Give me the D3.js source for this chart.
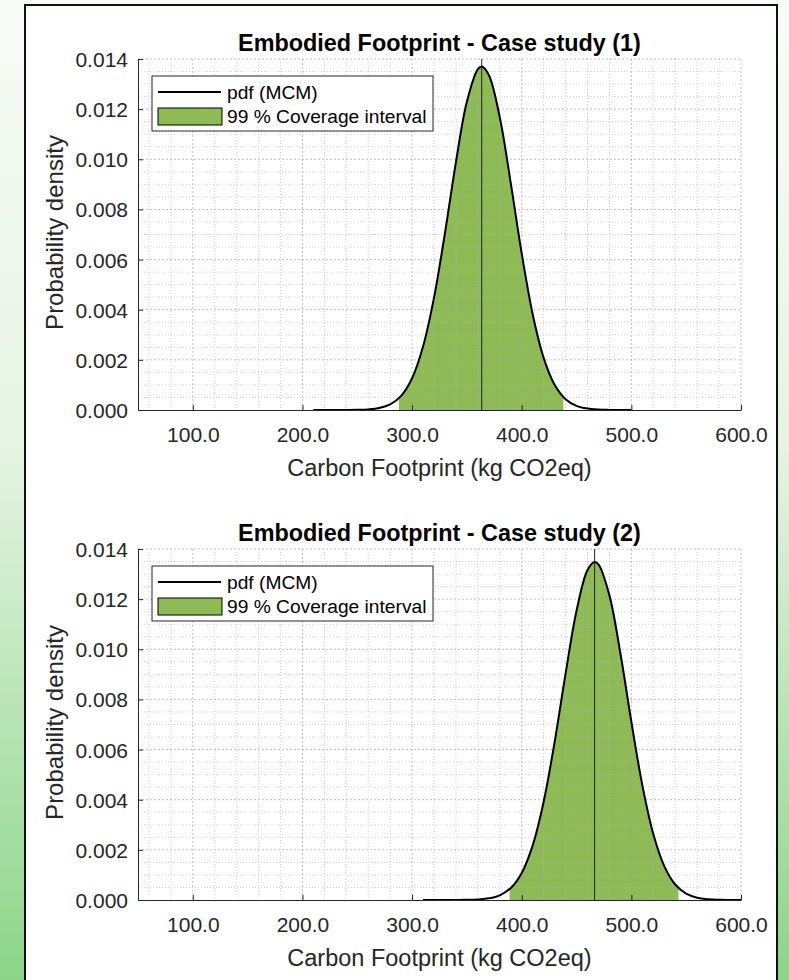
<!DOCTYPE html>
<html>
<head>
<meta charset="utf-8">
<script src="https://cdn.jsdelivr.net/npm/d3@7"></script>
<style>
    body { margin: 0; padding: 0; background: #fff; }
    svg { display: block; font-family: "Liberation Sans", Arial, sans-serif; }
    .tick text { fill: #262626; }
</style>
</head>
<body>
<svg id="chart"></svg>
<script>
// values
const xTicks = [100, 200, 300, 400, 500, 600];
const yTicks = [0, 0.002, 0.004, 0.006, 0.008, 0.010, 0.012, 0.014];
const xDomain = [50, 600];
const yDomain = [0, 0.014];

const titles = ["Embodied Footprint - Case study (1)", "Embodied Footprint - Case study (2)"];
const legendLabels = ["pdf (MCM)", "99 % Coverage interval"];

// case study 1 pdf
const pdf1X = [210, 220, 230, 240, 250, 260, 270, 280, 290, 300, 310, 320, 330, 340, 350, 360, 363.5,
               370, 380, 390, 400, 410, 420, 430, 440, 450, 460, 470, 480, 490, 500];
const pdf1Y = [0, 0.0000001, 0.0000004, 0.0000017, 0.0000068, 0.0000245, 0.0000785, 0.000223, 0.000564,
               0.001267, 0.00253, 0.00448, 0.00706, 0.00989, 0.0123, 0.0136, 0.0137,
               0.01336, 0.01167, 0.00905, 0.00624, 0.00382, 0.00208, 0.001007, 0.000433, 0.000165,
               0.000056, 0.0000169, 0.0000045, 0.0000011, 0.0000002];
const coverage1 = [288, 438];
const mean1 = 363.5;

// case study 2 pdf
const pdf2X = [310, 320, 330, 340, 350, 360, 370, 380, 390, 400, 410, 420, 430, 440, 450, 460, 466.5,
               470, 480, 490, 500, 510, 520, 530, 540, 550, 560, 570, 580, 590, 600];
const pdf2Y = [0, 0.0000001, 0.0000003, 0.0000015, 0.0000058, 0.0000208, 0.000066, 0.000188, 0.000478,
               0.001081, 0.00218, 0.00392, 0.0063, 0.00903, 0.01154, 0.01316, 0.01348,
               0.01339, 0.01215, 0.00984, 0.00711, 0.00458, 0.00263, 0.001351, 0.000618, 0.000252,
               0.000092, 0.00003, 0.0000086, 0.0000022, 0.0000005];
const coverage2 = [389, 543];
const mean2 = 466.5;

const WIDTH = 789, HEIGHT = 980;
const fillGreen = "#8fbb57";
const axisColor = "#262626";

let svg = d3.select("#chart")
    .attr("width", WIDTH)
    .attr("height", HEIGHT);

let defs = svg.append("defs");
let grad = defs.append("linearGradient")
    .attr("id", "bgGrad")
    .attr("x1", 0).attr("y1", 0)
    .attr("x2", 0).attr("y2", 1);
grad.append("stop").attr("offset", "0%").attr("stop-color", "#f8fcf7");
grad.append("stop").attr("offset", "45%").attr("stop-color", "#e6f4e4");
grad.append("stop").attr("offset", "100%").attr("stop-color", "#8cd588");

svg.append("rect")
    .attr("width", WIDTH).attr("height", HEIGHT)
    .attr("fill", "url(#bgGrad)");

// white figure window
svg.append("rect")
    .attr("x", 25).attr("y", 5)
    .attr("width", 752).attr("height", 1000)
    .attr("fill", "#fff")
    .attr("stroke", "#111")
    .attr("stroke-width", 2);

class DensityPanel {

    constructor(top, idx) {
        this.left = 138;
        this.right = 741;
        this.top = top;
        this.bottom = top + 351;
        this.idx = idx;
        this.x = d3.scaleLinear().domain(xDomain).range([this.left, this.right]);
        this.y = d3.scaleLinear().domain(yDomain).range([this.bottom, this.top]);
        this.g = svg.append("g");
    }

    drawGrid() {
        let x = this.x, y = this.y;
        let minorX = d3.range(60, 601, 20).filter(v => v % 100 !== 0);
        let minorY = d3.range(0.0005, 0.01401, 0.0005).filter(v => Math.abs(v / 0.002 - Math.round(v / 0.002)) > 1e-6);
        let grid = this.g.append("g").attr("fill", "none");
        grid.selectAll(".mx").data(minorX).enter().append("line")
            .attr("x1", d => x(d)).attr("x2", d => x(d))
            .attr("y1", this.top).attr("y2", this.bottom)
            .attr("stroke", "#b0b0b0").attr("stroke-opacity", 0.6)
            .attr("stroke-dasharray", "1,2");
        grid.selectAll(".my").data(minorY).enter().append("line")
            .attr("x1", this.left).attr("x2", this.right)
            .attr("y1", d => y(d)).attr("y2", d => y(d))
            .attr("stroke", "#b0b0b0").attr("stroke-opacity", 0.6)
            .attr("stroke-dasharray", "1,2");
        grid.selectAll(".Mx").data(xTicks).enter().append("line")
            .attr("x1", d => x(d)).attr("x2", d => x(d))
            .attr("y1", this.top).attr("y2", this.bottom)
            .attr("stroke", "#a0a0a0").attr("stroke-opacity", 0.65)
            .attr("stroke-dasharray", "2,2");
        grid.selectAll(".My").data(yTicks.slice(1)).enter().append("line")
            .attr("x1", this.left).attr("x2", this.right)
            .attr("y1", d => y(d)).attr("y2", d => y(d))
            .attr("stroke", "#a0a0a0").attr("stroke-opacity", 0.65)
            .attr("stroke-dasharray", "2,2");
    }

    drawCurve(xs, ys, cov, mean) {
        let x = this.x, y = this.y;
        let pts = xs.map((v, i) => [v, ys[i]]);
        let clipId = "cov" + this.idx;
        defs.append("clipPath").attr("id", clipId)
            .append("rect")
            .attr("x", x(cov[0])).attr("y", this.top)
            .attr("width", x(cov[1]) - x(cov[0]))
            .attr("height", this.bottom - this.top);
        let area = d3.area()
            .x(d => x(d[0])).y0(y(0)).y1(d => y(d[1]))
            .curve(d3.curveCatmullRom.alpha(0.5));
        this.g.append("path")
            .datum(pts)
            .attr("d", area)
            .attr("fill", fillGreen)
            .attr("clip-path", "url(#" + clipId + ")");

        this.drawGrid();

        // mean line
        this.g.append("line")
            .attr("x1", x(mean)).attr("x2", x(mean))
            .attr("y1", y(0)).attr("y2", this.top)
            .attr("stroke", "#222").attr("stroke-width", 1);

        let line = d3.line()
            .x(d => x(d[0])).y(d => y(d[1]))
            .curve(d3.curveCatmullRom.alpha(0.5));
        this.g.append("path")
            .datum(pts)
            .attr("d", line)
            .attr("fill", "none")
            .attr("stroke", "#000")
            .attr("stroke-width", 2);
    }

    drawAxes() {
        let xAxis = d3.axisBottom(this.x)
            .tickValues(xTicks)
            .tickSize(-5).tickSizeOuter(0)
            .tickPadding(17)
            .tickFormat(d3.format(".1f"));
        let yAxis = d3.axisLeft(this.y)
            .tickValues(yTicks)
            .tickSize(-5).tickSizeOuter(0)
            .tickPadding(10)
            .tickFormat(d3.format(".3f"));
        let gx = this.g.append("g")
            .attr("transform", "translate(0," + this.bottom + ")")
            .call(xAxis);
        let gy = this.g.append("g")
            .attr("transform", "translate(" + this.left + ",0)")
            .call(yAxis);
        [gx, gy].forEach(a => {
            a.selectAll("path, line").attr("stroke", axisColor);
            a.selectAll("text").style("font-size", "21px").attr("font-family", null);
        });
        gy.selectAll("text").attr("dy", "0.36em");

        this.g.append("text")
            .attr("x", (this.left + this.right) / 2)
            .attr("y", this.bottom + 66)
            .attr("text-anchor", "middle")
            .attr("fill", axisColor)
            .style("font-size", "23.5px")
            .text("Carbon Footprint (kg CO2eq)");
        this.g.append("text")
            .attr("transform", "translate(63," + ((this.top + this.bottom) / 2 - 2) + ") rotate(-90)")
            .attr("text-anchor", "middle")
            .attr("fill", axisColor)
            .style("font-size", "24px")
            .text("Probability density");
        this.g.append("text")
            .attr("x", (this.left + this.right) / 2)
            .attr("y", this.top - 8)
            .attr("text-anchor", "middle")
            .attr("fill", "#000")
            .style("font-size", "23.4px")
            .style("font-weight", "bold")
            .text(titles[this.idx]);
    }

    drawLegend() {
        let lx = this.left + 14, ly = this.top + 17;
        let lg = this.g.append("g");
        lg.append("rect")
            .attr("x", lx).attr("y", ly)
            .attr("width", 281).attr("height", 55)
            .attr("fill", "#fff")
            .attr("stroke", axisColor)
            .attr("stroke-width", 1);
        lg.append("line")
            .attr("x1", lx + 6).attr("x2", lx + 69)
            .attr("y1", ly + 16).attr("y2", ly + 16)
            .attr("stroke", "#000").attr("stroke-width", 2);
        lg.append("rect")
            .attr("x", lx + 6).attr("y", ly + 32)
            .attr("width", 64).attr("height", 17)
            .attr("fill", fillGreen)
            .attr("stroke", "#000").attr("stroke-width", 1);
        lg.selectAll(".lt").data(legendLabels).enter().append("text")
            .attr("x", lx + 75)
            .attr("y", (d, i) => ly + 23 + i * 24)
            .attr("fill", "#000")
            .style("font-size", "19.2px")
            .text(d => d);
    }
}

let p1 = new DensityPanel(59, 0);
p1.drawCurve(pdf1X, pdf1Y, coverage1, mean1);
p1.drawAxes();
p1.drawLegend();

let p2 = new DensityPanel(549, 1);
p2.drawCurve(pdf2X, pdf2Y, coverage2, mean2);
p2.drawAxes();
p2.drawLegend();
</script>
</body>
</html>
